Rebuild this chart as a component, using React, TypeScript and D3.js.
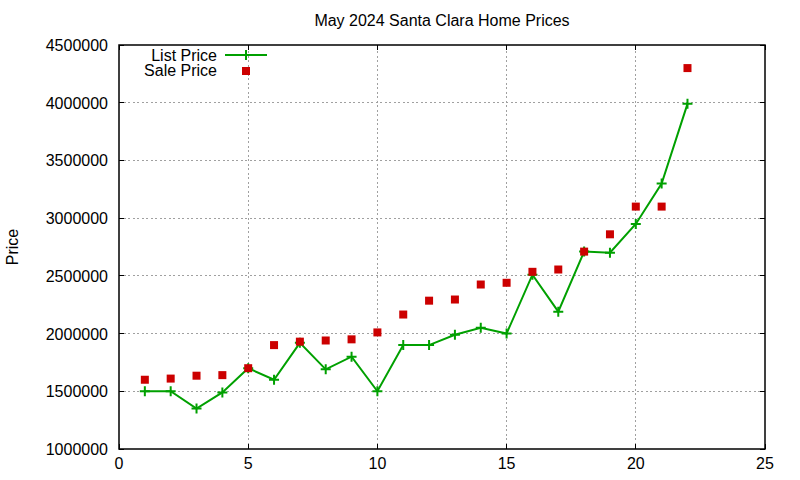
import { useEffect, useRef } from 'react'
import * as d3 from 'd3'

const days = [1, 2, 3, 4, 5, 6, 7, 8, 9, 10, 11, 12, 13, 14, 15, 16, 17, 18, 19, 20, 21, 22]
const listPrice = [
  1500000, 1500000, 1350000, 1490000, 1700000, 1600000, 1920000, 1690000, 1800000, 1500000, 1900000,
  1900000, 1990000, 2050000, 2000000, 2510000, 2190000, 2710000, 2700000, 2950000, 3300000, 3990000
]
const salePrice = [
  1600000, 1610000, 1635000, 1640000, 1700000, 1900000, 1930000, 1940000, 1950000, 2010000, 2165000,
  2285000, 2295000, 2425000, 2440000, 2535000, 2555000, 2710000, 2860000, 3100000, 3100000, 4300000
]
const xTicks = [0, 5, 10, 15, 20, 25]
const yTicks = [1000000, 1500000, 2000000, 2500000, 3000000, 3500000, 4000000, 4500000]

const W = 800
const H = 480
const FONT = '"Liberation Sans", Arial, sans-serif'
const GREEN = '#00a000'
const RED = '#cc0000'

export default function App() {
  const svgRef = useRef<SVGSVGElement>(null)

  useEffect(() => {
    if (!svgRef.current) return
    const svg = d3.select(svgRef.current)
    svg.selectAll('*').remove()

    const margin = { top: 45, right: 35, bottom: 31, left: 119 }

    const x = d3.scaleLinear()
      .domain([0, 25])
      .range([margin.left, W - margin.right])

    const y = d3.scaleLinear()
      .domain([1000000, 4500000])
      .range([H - margin.bottom, margin.top])

    const x0 = margin.left
    const x1 = W - margin.right
    const y0 = H - margin.bottom
    const y1 = margin.top

    // Grid
    xTicks.filter(t => t > 0 && t < 25).forEach(t => {
      svg.append('line')
        .attr('x1', x(t)).attr('x2', x(t))
        .attr('y1', y0).attr('y2', y1)
        .style('stroke', '#a0a0a0')
        .style('stroke-width', '1px')
        .style('stroke-dasharray', '2,2.5')
        .attr('shape-rendering', 'crispEdges')
    })
    yTicks.filter(t => t > 1000000 && t < 4500000).forEach(t => {
      svg.append('line')
        .attr('x1', x0).attr('x2', x1)
        .attr('y1', y(t)).attr('y2', y(t))
        .style('stroke', '#a0a0a0')
        .style('stroke-width', '1px')
        .style('stroke-dasharray', '2,2.5')
        .attr('shape-rendering', 'crispEdges')
    })

    // Tick marks (mirrored, inward)
    const tickLen = 5
    xTicks.forEach(t => {
      svg.append('line')
        .attr('x1', x(t)).attr('x2', x(t))
        .attr('y1', y0).attr('y2', y0 - tickLen)
        .style('stroke', '#000').style('stroke-width', '1px')
        .attr('shape-rendering', 'crispEdges')
      svg.append('line')
        .attr('x1', x(t)).attr('x2', x(t))
        .attr('y1', y1).attr('y2', y1 + tickLen)
        .style('stroke', '#000').style('stroke-width', '1px')
        .attr('shape-rendering', 'crispEdges')
      svg.append('text')
        .attr('x', x(t))
        .attr('y', y0 + 20)
        .attr('text-anchor', 'middle')
        .style('font-family', FONT)
        .style('font-size', '16px')
        .style('fill', '#000')
        .text(t)
    })
    yTicks.forEach(t => {
      svg.append('line')
        .attr('x1', x0).attr('x2', x0 + tickLen)
        .attr('y1', y(t)).attr('y2', y(t))
        .style('stroke', '#000').style('stroke-width', '1px')
        .attr('shape-rendering', 'crispEdges')
      svg.append('line')
        .attr('x1', x1).attr('x2', x1 - tickLen)
        .attr('y1', y(t)).attr('y2', y(t))
        .style('stroke', '#000').style('stroke-width', '1px')
        .attr('shape-rendering', 'crispEdges')
      svg.append('text')
        .attr('x', x0 - 11)
        .attr('y', y(t) + 6)
        .attr('text-anchor', 'end')
        .style('font-family', FONT)
        .style('font-size', '16px')
        .style('fill', '#000')
        .text(t)
    })

    // Border
    svg.append('rect')
      .attr('x', x0).attr('y', y1)
      .attr('width', x1 - x0).attr('height', y0 - y1)
      .style('fill', 'none')
      .style('stroke', '#000')
      .style('stroke-width', '1.5px')

    // List price line
    const line = d3.line<number>()
      .x((_, i) => x(days[i]))
      .y(d => y(d))

    svg.append('path')
      .datum(listPrice)
      .attr('d', line)
      .style('fill', 'none')
      .style('stroke', GREEN)
      .style('stroke-width', '2px')

    const plus = (cx: number, cy: number) => {
      svg.append('path')
        .attr('d', `M${cx - 5},${cy}H${cx + 5}M${cx},${cy - 5}V${cy + 5}`)
        .style('stroke', GREEN)
        .style('stroke-width', '2px')
        .style('fill', 'none')
    }
    listPrice.forEach((d, i) => plus(x(days[i]), y(d)))

    // Sale price squares
    svg.selectAll('.sale')
      .data(salePrice)
      .join('rect')
      .attr('class', 'sale')
      .attr('x', (_, i) => x(days[i]) - 4)
      .attr('y', d => y(d) - 4)
      .attr('width', 8)
      .attr('height', 8)
      .style('fill', RED)

    // Legend
    svg.append('text')
      .attr('x', 217).attr('y', 61)
      .attr('text-anchor', 'end')
      .style('font-family', FONT).style('font-size', '16px')
      .text('List Price')
    svg.append('line')
      .attr('x1', 225).attr('x2', 267)
      .attr('y1', 55).attr('y2', 55)
      .style('stroke', GREEN).style('stroke-width', '2px')
    plus(246, 55)
    svg.append('text')
      .attr('x', 217).attr('y', 76)
      .attr('text-anchor', 'end')
      .style('font-family', FONT).style('font-size', '16px')
      .text('Sale Price')
    svg.append('rect')
      .attr('x', 242).attr('y', 67)
      .attr('width', 8).attr('height', 8)
      .style('fill', RED)

    // Title
    svg.append('text')
      .attr('x', (x0 + x1) / 2)
      .attr('y', 26)
      .attr('text-anchor', 'middle')
      .style('font-family', FONT).style('font-size', '16px')
      .text('May 2024 Santa Clara Home Prices')

    // Y label
    svg.append('text')
      .attr('transform', `translate(18, ${(y0 + y1) / 2}) rotate(-90)`)
      .attr('text-anchor', 'middle')
      .style('font-family', FONT).style('font-size', '16px')
      .text('Price')
  }, [])

  return (
    <svg
      ref={svgRef}
      width={W}
      height={H}
      style={{ position: 'absolute', left: 0, top: 0, background: '#fff' }}
    />
  )
}
